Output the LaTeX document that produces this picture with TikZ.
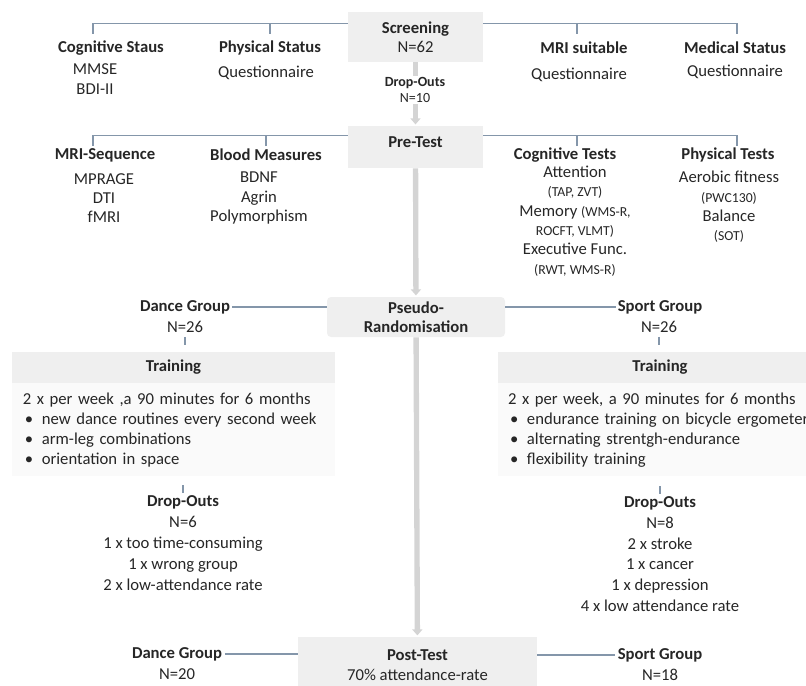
\documentclass[tikz,border=0pt]{standalone}
\usepackage{fontspec}
\setmainfont{Carlito}
\usetikzlibrary{arrows.meta}
\definecolor{boxgray}{RGB}{239,239,239}
\definecolor{linegray}{RGB}{132,150,170}
\definecolor{flowgray}{RGB}{212,212,212}
\definecolor{ink}{RGB}{38,38,38}
\newcommand\sm[1]{{\fontsize{10.3}{11}\selectfont #1}}
\newcommand\bul{\makebox[14.25pt][l]{\hspace{1.5pt}\textbullet}}

\begin{document}
\begin{tikzpicture}[x=.75pt,y=-.75pt,
  every node/.style={text=ink,inner sep=0pt,align=center,font=\fontsize{12.5}{14.5}\selectfont},
  hd/.style={font=\fontsize{12.5}{14.5}\selectfont\bfseries},
  box/.style={fill=boxgray},
  plan/.style={fill=black!2,anchor=north west,align=left,inner ysep=7pt,font=\fontsize{12.5}{15}\selectfont},
  conn/.style={draw=linegray,line width=1pt},
  flow/.style={draw=flowgray,line width=4pt,shorten >=1pt,-{Triangle[width=7.5pt,length=4.5pt]}}]
  \useasboundingbox (0,0) rectangle (806,685);

  \node[box,minimum width=101pt,minimum height=37.5pt] (screen) at (415.5,37) {\textbf{Screening}\\N=62};
  \node[hd] (cogstat) at (111,48) {Cognitive Staus};
  \node (cogitems) at (95,79) {MMSE\\BDI-II};
  \node[hd] (physstat) at (270,48) {Physical Status};
  \node (physitems) at (266,73) {Questionnaire};
  \node[hd] (mrisuit) at (584,48) {MRI suitable};
  \node (mriitems) at (579,75) {Questionnaire};
  \node[hd] (medstat) at (735,48) {Medical Status};
  \node (meditems) at (735,72) {Questionnaire};
  \coordinate (scrL) at ([yshift=-9pt]screen.north west);
  \coordinate (scrR) at ([yshift=-9pt]screen.north east);
  \coordinate (t1) at (93,34); \coordinate (t2) at (270,34);
  \coordinate (t3) at (577,34); \coordinate (t4) at (737,34);
  \draw[conn] (scrL) -| (t1); \draw[conn] (t2) -- (t2 |- scrL);
  \draw[conn] (scrR) -| (t4); \draw[conn] (t3) -- (t3 |- scrR);

  \node[box,minimum width=101pt,minimum height=31.5pt,text depth=8pt] (pretest) at (415.5,147) {\textbf{Pre-Test}};
  \node[hd] (mriseq) at (105,155) {MRI-Sequence};
  \node (mriseqitems) at (104,198) {MPRAGE\\DTI\\fMRI};
  \node[hd] (blood) at (266,155) {Blood Measures};
  \node (blooditems) at (259,198) {BDNF\\Agrin\\Polymorphism};
  \node[hd] (cogtests) at (565,155) {Cognitive Tests};
  \node (cogtestitems) at (575,221) {Attention\\\sm{(TAP, ZVT)}\\Memory \sm{(WMS-R,}\\\sm{ROCFT, VLMT)}\\Executive Func.\\\sm{(RWT, WMS-R)}};
  \node[hd] (phystests) at (728,155) {Physical Tests};
  \node (phystestitems) at (729,207) {Aerobic fitness\\\sm{(PWC130)}\\Balance\\\sm{(SOT)}};
  \coordinate (preL) at ([yshift=-7.5pt]pretest.north west);
  \coordinate (preR) at ([yshift=-7.5pt]pretest.north east);
  \coordinate (t5) at (93,146); \coordinate (t6) at (266,146);
  \coordinate (t7) at (577,146); \coordinate (t8) at (737,146);
  \draw[conn] (preL) -| (t5); \draw[conn] (t6) -- (t6 |- preL);
  \draw[conn] (preR) -| (t8); \draw[conn] (t7) -- (t7 |- preR);

  \node[box,rounded corners=3pt,minimum width=133.5pt,minimum height=30pt,hd] (pseudo) at (416,317) {Pseudo-\\Randomisation};
  \node[hd] (danceA) at (185,307) {Dance Group};
  \node (danceN) at (185,327) {N=26};
  \node[hd] (sportA) at (660,307) {Sport Group};
  \node (sportN) at (659,327) {N=26};
  \draw[conn] ([xshift=1.5pt]danceA.east) -- (danceA.east -| pseudo.west);
  \draw[conn] ([xshift=-1.5pt]sportA.west) -- (sportA.west -| pseudo.east);
  \draw[conn] ([yshift=-3pt]danceN.south) -- ++(0,8);
  \draw[conn] ([yshift=-3pt]sportN.south) -- ++(0,8);

  \node[box,minimum width=242pt,minimum height=23pt,hd] (trainL) at (173.5,367.5) {Training};
  \node[box,minimum width=243pt,minimum height=23pt,hd] (trainR) at (660,367.5) {Training};
  \node[plan,text width=226pt,inner xsep=8pt] (planL) at (trainL.south west)
    {2 x per week ,a 90 minutes for 6 months\\\bul new dance routines every second week\\\bul arm-leg combinations\\\bul orientation in space};
  \node[plan,text width=240pt,inner xsep=7.5pt] (planR) at (trainR.south west)
    {2 x per week, a 90 minutes for 6 months\\\bul endurance training on bicycle ergometer\\\bul alternating strentgh-endurance\\\bul flexibility training};

  \node[font=\fontsize{12.5}{15.75}\selectfont] (dropL) at (183,543) {\textbf{Drop-Outs}\\N=6\\1 x too time-consuming\\1 x wrong group\\2 x low-attendance rate};
  \node[font=\fontsize{12.5}{15.5}\selectfont] (dropR) at (660,554) {\textbf{Drop-Outs}\\N=8\\2 x stroke\\1 x cancer\\1 x depression\\4 x low attendance rate};
  \draw[conn] ([yshift=2pt]dropL.north) -- ++(0,-8);
  \draw[conn] ([yshift=2pt]dropR.north) -- ++(0,-8);

  \node[box,minimum width=179pt,minimum height=42pt] (post) at (417.5,665) {\textbf{Post-Test}\\70\% attendance-rate};
  \node[hd] (danceB) at (177,654) {Dance Group};
  \node (danceBN) at (177,674) {N=20};
  \node[hd] (sportB) at (660,655) {Sport Group};
  \node (sportBN) at (660,675) {N=18};
  \draw[conn] ([xshift=2pt]danceB.east) -- (danceB.east -| post.west);
  \draw[conn] ([xshift=-2pt]sportB.west) -- (sportB.west -| post.east);

  \draw[flow] (screen) -- (pretest);
  \draw[flow] (pretest) -- (pseudo);
  \draw[flow] (pseudo) -- (post);
  \node[fill=white,inner sep=1pt,font=\fontsize{10.5}{12.5}\selectfont] (dropC) at (415,90) {\textbf{Drop-Outs}\\N=10};
\end{tikzpicture}
\end{document}
